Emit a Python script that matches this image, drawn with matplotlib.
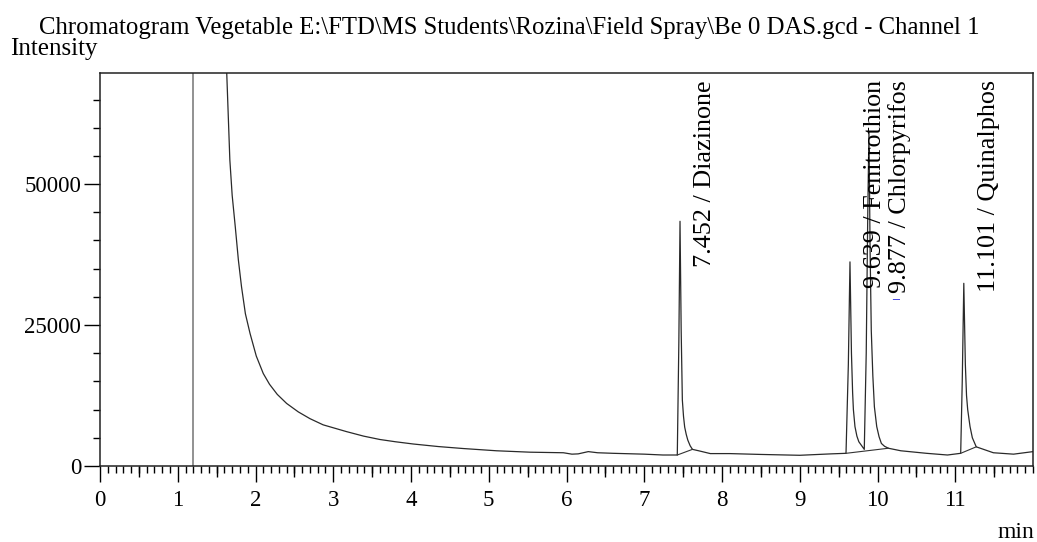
import numpy as np
import matplotlib
matplotlib.use("Agg")
import matplotlib.pyplot as plt
from matplotlib.ticker import MultipleLocator

plt.rcParams['font.family'] = ['Liberation Serif', 'DejaVu Serif']

# signal trace (time in min, intensity in counts)
time = [1.63, 1.67, 1.70, 1.74, 1.78, 1.82, 1.87, 1.93, 2.01, 2.10, 2.18,
        2.28, 2.40, 2.55, 2.70, 2.87, 3.02, 3.17, 3.39, 3.60, 3.80, 4.03,
        4.35, 4.67, 5.10, 5.53, 5.96, 6.07, 6.15, 6.28, 6.40, 6.60, 7.00,
        7.24, 7.425, 7.445, 7.46, 7.475, 7.49, 7.505, 7.52, 7.54, 7.56, 7.59,
        7.62, 7.70, 7.85, 8.10, 8.50, 9.00, 9.40, 9.595, 9.625, 9.646, 9.665,
        9.68, 9.69, 9.71, 9.735, 9.76, 9.83, 9.855, 9.875, 9.89, 9.905, 9.92,
        9.94, 9.96, 9.99, 10.02, 10.05, 10.09, 10.14, 10.30, 10.63, 10.90,
        11.07, 11.09, 11.11, 11.13, 11.145, 11.16, 11.19, 11.22, 11.27, 11.49,
        11.75, 12.0]
intensity = [69700, 54300, 48000, 42400, 36500, 31800, 27000, 23500, 19500,
             16400, 14500, 12700, 11100, 9600, 8400, 7300, 6700, 6100, 5300,
             4700, 4300, 3900, 3450, 3100, 2700, 2450, 2350, 2100, 2150, 2550,
             2350, 2250, 2100, 1950, 1950, 22000, 43400, 24000, 11700, 8800,
             6900, 5600, 4600, 3600, 2950, 2700, 2200, 2200, 2050, 1900, 2150,
             2250, 18000, 36200, 20000, 13000, 10000, 7000, 5300, 4300, 2950,
             20000, 45000, 59300, 38000, 24000, 16000, 10500, 7000, 5200, 4000,
             3500, 3150, 2700, 2250, 1950, 2250, 15000, 32400, 18000, 12500,
             10000, 7000, 5000, 3400, 2350, 2100, 2550]

# integration baselines (start / end of each integrated region)
base_t0 = [7.425, 9.595, 11.07]
base_i0 = [1950, 2250, 2250]
base_t1 = [7.62, 10.14, 11.27]
base_i1 = [2950, 3150, 3400]

# identified peaks
peak_rt = [7.452, 9.639, 9.877, 11.101]
peak_names = ["Diazinone", "Fenitrothion", "Chlorpyrifos", "Quinalphos"]

event_time = 1.2

TITLE = (r"Chromatogram Vegetable E:\FTD\MS Students\Rozina\Field Spray"
         r"\Be 0 DAS.gcd - Channel 1")

fig = plt.figure(figsize=(10.37, 5.42), dpi=100)
ax = fig.add_axes([100 / 1037, 1 - 466 / 542, 933 / 1037, 393 / 542])

ax.plot(time, intensity, color='#2a2a2a', lw=0.9)
for t0, i0, t1, i1 in zip(base_t0, base_i0, base_t1, base_i1):
    ax.plot([t0, t1], [i0, i1], color='#333333', lw=0.8)
ax.axvline(event_time, color='#7f7f7f', lw=1.2)

# peak labels, offset to the right of each peak and hung from the top
label_dx = [0.33, 0.33, 0.41, 0.33]
for rt, name, dx in zip(peak_rt, peak_names, label_dx):
    ax.text(rt + dx, 68400, f"{rt:.3f} / {name}", rotation=90,
            ha='center', va='top', fontsize=18.8, color='black')
# small blue flag under the Chlorpyrifos label
ax.text(peak_rt[2] + label_dx[2] - 0.05, 29500, "\u2013",
        ha='center', va='center', fontsize=10, fontweight='bold',
        color='#1010dd')

ax.set_xlim(0, 12)
ax.set_ylim(0, 69700)
ax.xaxis.set_major_locator(MultipleLocator(1))
ax.xaxis.set_minor_locator(MultipleLocator(0.1))
ax.yaxis.set_major_locator(MultipleLocator(25000))
ax.yaxis.set_minor_locator(MultipleLocator(5000))
ax.set_xticks(range(0, 12))
ax.tick_params(which='major', direction='out', length=11.5, width=1.0,
               labelsize=16.5, pad=6, top=False, right=False)
ax.tick_params(axis='y', which='major', pad=2)
ax.tick_params(which='minor', direction='out', length=5, width=1.0,
               top=False, right=False)

# half-minute ticks are a bit longer
sec = ax.secondary_xaxis('bottom')
sec.set_xticks(np.arange(0.5, 12, 1.0))
sec.tick_params(direction='out', length=8, width=1.0, labelbottom=False)
sec.spines['bottom'].set_visible(False)

for sp in ax.spines.values():
    sp.set_linewidth(1.1)
    sp.set_color('#222222')

fig.text(509 / 1037, 1 - 34 / 542, TITLE, ha='center', va='baseline',
         fontsize=17.8)
fig.text(10 / 1037, 1 - 55 / 542, "Intensity", ha='left', va='baseline',
         fontsize=18)
fig.text(1034 / 1037, 1 - 538 / 542, "min", ha='right', va='baseline',
         fontsize=17)

fig.savefig("out.png", dpi=100)
